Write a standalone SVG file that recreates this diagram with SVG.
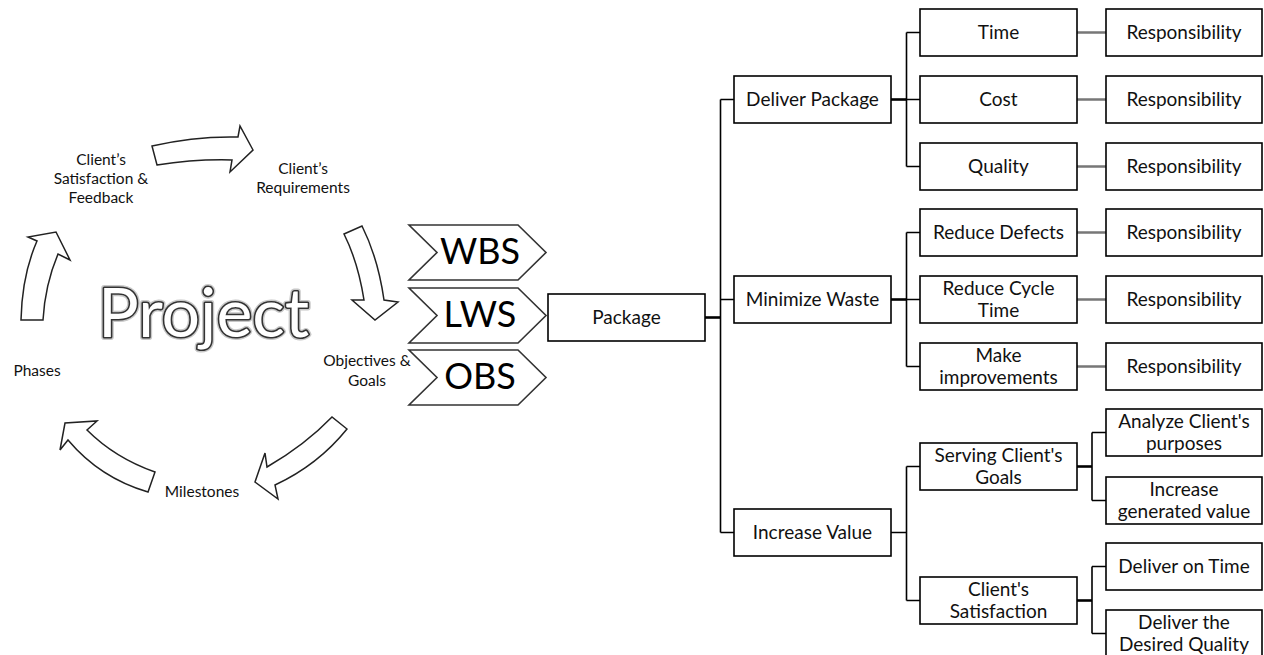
<svg xmlns="http://www.w3.org/2000/svg" width="1264" height="655" viewBox="0 0 1264 655">
<style>
.box{fill:#fff;stroke:#000;stroke-width:1.6}
.t{font-family:Lato,"Open Sans",sans-serif;font-size:19px;fill:#111;text-anchor:middle}
.lbl{font-family:Lato,"Open Sans",sans-serif;font-size:15.5px;fill:#111;text-anchor:middle}
.big{font-family:Lato,"Open Sans",sans-serif;font-size:36px;fill:#000;text-anchor:middle}
.arr{fill:#fff;stroke:#222;stroke-width:1.5;stroke-linejoin:miter}
.chev{fill:#fff;stroke:#333;stroke-width:1.6}
.ln{fill:none;stroke:#000;stroke-width:1.6}
.lnb{fill:none;stroke:#000;stroke-width:2.6}
.lng{fill:none;stroke:#777;stroke-width:2.6}
.proj{font-family:Lato,"Open Sans",sans-serif;font-size:68px;fill:#fff}
</style>
<rect width="1264" height="655" fill="#fff"/>

<g id="cycle">
<path class="arr" d="M152,146 Q195,136 238,137 L240,126 L253,150 L230,172 L232,160 Q195,159 157,165 Z"/>
<path class="arr" d="M344,234 L362,226 Q378,258 384,300 L398,302 L375,320 L352,300 L364,300 Q358,262 344,234 Z"/>
<path class="arr" d="M332,417 Q305,445 267,467 L265,453 L255,482 L278,499 L275,485 Q318,465 347,429 Z"/>
<path class="arr" d="M155,472 Q115,458 87,430 L97,421 L65,423 L60,450 L68,440 Q100,478 148,492 Z"/>
<path class="arr" d="M21,320 Q22,275 37,241 L28,237 L56,232 L70,260 L58,254 Q45,285 43,320 Z"/>
</g>

<g id="cycle-labels">
<text class="lbl" x="101" y="165">Client’s</text>
<text class="lbl" x="101" y="184">Satisfaction &amp;</text>
<text class="lbl" x="101" y="203">Feedback</text>
<text class="lbl" x="303" y="174">Client’s</text>
<text class="lbl" x="303" y="193">Requirements</text>
<text class="lbl" x="367" y="366">Objectives &amp;</text>
<text class="lbl" x="367" y="386">Goals</text>
<text class="lbl" x="37" y="376">Phases</text>
<text class="lbl" x="202" y="497">Milestones</text>
</g>

<g id="project">
<text class="proj" x="98" y="337" style="stroke:#c8c8c8;stroke-width:6;stroke-linejoin:round">Project</text>
<text class="proj" x="98" y="337" style="stroke:#333;stroke-width:3.2;stroke-linejoin:round">Project</text>
<text class="proj" x="98" y="337">Project</text>
</g>

<g id="wbs">
<polygon class="chev" points="409,225 518,225 546,252.5 518,280 409,280 437,252.5"/>
<text class="big" x="480" y="264">WBS</text>
</g>
<g id="lws">
<polygon class="chev" points="409,288 518,288 546,315.5 518,343 409,343 437,315.5"/>
<text class="big" x="480" y="327">LWS</text>
</g>
<g id="obs">
<polygon class="chev" points="409,350 518,350 546,377.5 518,405 409,405 437,377.5"/>
<text class="big" x="480" y="389">OBS</text>
</g>

<g id="connectors">
<path class="lnb" d="M705,317.5 H720.5"/>
<path class="ln" d="M720.5,99.5 V532.5 M720.5,99.5 H734 M720.5,299.5 H734 M720.5,532.5 H734"/>
<path class="lnb" d="M891,99.5 H906.5"/>
<path class="ln" d="M906.5,32.5 V166.5 M906.5,32.5 H920 M906.5,99.5 H920 M906.5,166.5 H920"/>
<path class="lnb" d="M891,299.5 H906.5"/>
<path class="ln" d="M906.5,232.5 V366.5 M906.5,232.5 H920 M906.5,299.5 H920 M906.5,366.5 H920"/>
<path class="ln" d="M891,532.5 H906.5 M906.5,466.5 V600.5 M906.5,466.5 H920 M906.5,600.5 H920"/>
<path class="lnb" d="M1077,466.5 H1092"/>
<path class="ln" d="M1092,432.5 V500.5 M1092,432.5 H1106 M1092,500.5 H1106"/>
<path class="lnb" d="M1077,600.5 H1092"/>
<path class="ln" d="M1092,566.5 V633.5 M1092,566.5 H1106 M1092,633.5 H1106"/>
<path class="lng" d="M1077,32.5 H1106 M1077,99.5 H1106 M1077,166.5 H1106 M1077,232.5 H1106 M1077,299.5 H1106 M1077,366.5 H1106"/>
</g>

<g id="package"><rect class="box" x="548" y="294" width="157" height="47"/><text class="t" x="626.5" y="324">Package</text></g>

<g id="deliver-package"><rect class="box" x="734" y="76" width="157" height="47"/><text class="t" x="812.5" y="106">Deliver Package</text></g>
<g id="minimize-waste"><rect class="box" x="734" y="276" width="157" height="47"/><text class="t" x="812.5" y="306">Minimize Waste</text></g>
<g id="increase-value"><rect class="box" x="734" y="509" width="157" height="47"/><text class="t" x="812.5" y="539">Increase Value</text></g>

<g id="time"><rect class="box" x="920" y="9" width="157" height="47"/><text class="t" x="998.5" y="39">Time</text></g>
<g id="cost"><rect class="box" x="920" y="76" width="157" height="47"/><text class="t" x="998.5" y="106">Cost</text></g>
<g id="quality"><rect class="box" x="920" y="143" width="157" height="47"/><text class="t" x="998.5" y="173">Quality</text></g>
<g id="reduce-defects"><rect class="box" x="920" y="209" width="157" height="47"/><text class="t" x="998.5" y="239">Reduce Defects</text></g>
<g id="reduce-cycle-time"><rect class="box" x="920" y="276" width="157" height="47"/><text class="t" x="998.5" y="295">Reduce Cycle</text><text class="t" x="998.5" y="317">Time</text></g>
<g id="make-improvements"><rect class="box" x="920" y="343" width="157" height="47"/><text class="t" x="998.5" y="362">Make</text><text class="t" x="998.5" y="384">improvements</text></g>
<g id="serving-goals"><rect class="box" x="920" y="443" width="157" height="47"/><text class="t" x="998.5" y="462">Serving Client's</text><text class="t" x="998.5" y="484">Goals</text></g>
<g id="client-satisfaction"><rect class="box" x="920" y="577" width="157" height="47"/><text class="t" x="998.5" y="596">Client's</text><text class="t" x="998.5" y="618">Satisfaction</text></g>

<g id="resp-time"><rect class="box" x="1106" y="9" width="156" height="47"/><text class="t" x="1184" y="39">Responsibility</text></g>
<g id="resp-cost"><rect class="box" x="1106" y="76" width="156" height="47"/><text class="t" x="1184" y="106">Responsibility</text></g>
<g id="resp-quality"><rect class="box" x="1106" y="143" width="156" height="47"/><text class="t" x="1184" y="173">Responsibility</text></g>
<g id="resp-defects"><rect class="box" x="1106" y="209" width="156" height="47"/><text class="t" x="1184" y="239">Responsibility</text></g>
<g id="resp-cycle"><rect class="box" x="1106" y="276" width="156" height="47"/><text class="t" x="1184" y="306">Responsibility</text></g>
<g id="resp-improve"><rect class="box" x="1106" y="343" width="156" height="47"/><text class="t" x="1184" y="373">Responsibility</text></g>
<g id="analyze"><rect class="box" x="1106" y="409" width="156" height="47"/><text class="t" x="1184" y="428">Analyze Client's</text><text class="t" x="1184" y="450">purposes</text></g>
<g id="increase-generated"><rect class="box" x="1106" y="477" width="156" height="47"/><text class="t" x="1184" y="496">Increase</text><text class="t" x="1184" y="518">generated value</text></g>
<g id="deliver-on-time"><rect class="box" x="1106" y="543" width="156" height="47"/><text class="t" x="1184" y="573">Deliver on Time</text></g>
<g id="deliver-quality"><rect class="box" x="1106" y="610" width="156" height="47"/><text class="t" x="1184" y="629">Deliver the</text><text class="t" x="1184" y="651">Desired Quality</text></g>
</svg>
